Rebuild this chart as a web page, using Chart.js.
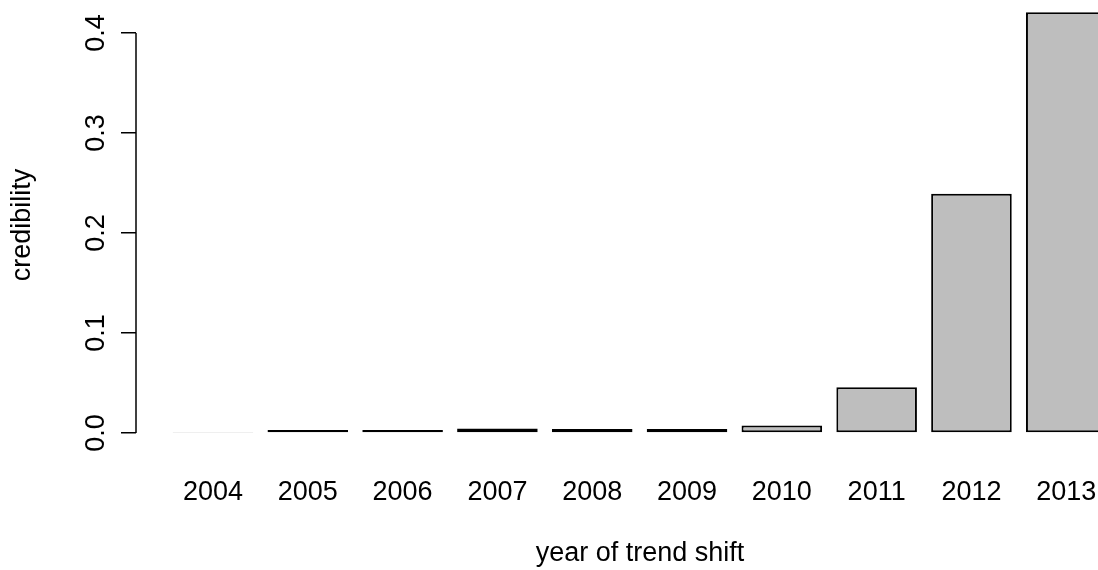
<!DOCTYPE html>
<html>
<head>
<meta charset="utf-8">
<script src="https://cdn.jsdelivr.net/npm/chart.js@4"></script>
<style>
    html, body { margin: 0; padding: 0; background: #fff; overflow: hidden; }
    #wrap { width: 1098px; height: 570px; overflow: hidden; }
</style>
</head>
<body>
<div id="wrap"><canvas id="trend-chart" width="1144" height="570"></canvas></div>
<script>
const years = ['2004', '2005', '2006', '2007', '2008', '2009', '2010', '2011', '2012', '2013'];
const credibility = [0.001, 0.003, 0.003, 0.0045, 0.004, 0.004, 0.0075, 0.0457, 0.2393, 0.4207];
const yTicks = [0, 0.1, 0.2, 0.3, 0.4];

const FONT = '"Liberation Sans", Arial, sans-serif';

// R style axis line: only from the first to the last tick
const axisLine = {
    id: 'axisLine',
    afterDraw(chart) {
        const y = chart.scales.y;
        const c = chart.ctx;
        c.save();
        c.strokeStyle = '#000';
        c.lineWidth = 1.5;
        c.beginPath();
        c.moveTo(y.right, y.getPixelForValue(yTicks[0]));
        c.lineTo(y.right, y.getPixelForValue(yTicks[yTicks.length - 1]));
        c.stroke();
        c.restore();
    },
};

const ctx = document.getElementById('trend-chart');

new Chart(ctx, {
    type: 'bar',
    data: {
        datasets: [{
            data: credibility.map((v, i) => ({ x: i, y: v })),
            backgroundColor: '#bebebe',
            borderColor: '#000',
            borderWidth: 2,
            borderSkipped: false,
            barPercentage: 0.85,
            categoryPercentage: 1,
            clip: false,
        }],
    },
    options: {
        responsive: false,
        animation: false,
        layout: {
            padding: 0,
        },
        plugins: {
            legend: { display: false },
            tooltip: { enabled: false },
        },
        scales: {
            x: {
                type: 'linear',
                offset: false,
                min: -0.812,
                max: 9.82,
                grid: { display: false },
                border: { display: false },
                afterBuildTicks: scale => {
                    scale.ticks = years.map((_, i) => ({ value: i }));
                },
                afterFit: scale => {
                    scale.height = 120;
                    scale.paddingLeft = 0;
                    scale.paddingRight = 0;
                },
                ticks: {
                    autoSkip: false,
                    maxRotation: 0,
                    padding: 18,
                    color: '#000',
                    font: { family: FONT, size: 27 },
                    callback: v => years[v],
                },
                title: {
                    display: true,
                    text: 'year of trend shift',
                    color: '#000',
                    font: { family: FONT, size: 27 },
                    padding: { top: 0, bottom: 0 },
                },
            },
            y: {
                min: -0.017,
                max: 0.433,
                afterBuildTicks: scale => {
                    scale.ticks = yTicks.map(v => ({ value: v }));
                },
                afterFit: scale => {
                    scale.width = 136;
                    scale.paddingTop = 0;
                    scale.paddingBottom = 0;
                },
                grid: {
                    drawOnChartArea: false,
                    drawTicks: true,
                    tickLength: 15,
                    color: '#000',
                    lineWidth: 1.5,
                },
                border: { display: false },
                ticks: {
                    minRotation: 90,
                    maxRotation: 90,
                    crossAlign: 'center',
                    padding: 6,
                    color: '#000',
                    font: { family: FONT, size: 27 },
                    callback: v => v.toFixed(1),
                },
                title: {
                    display: true,
                    text: 'credibility',
                    color: '#000',
                    font: { family: FONT, size: 27 },
                    padding: { top: 6, bottom: 0 },
                },
            },
        },
    },
    plugins: [axisLine],
});
</script>
</body>
</html>
